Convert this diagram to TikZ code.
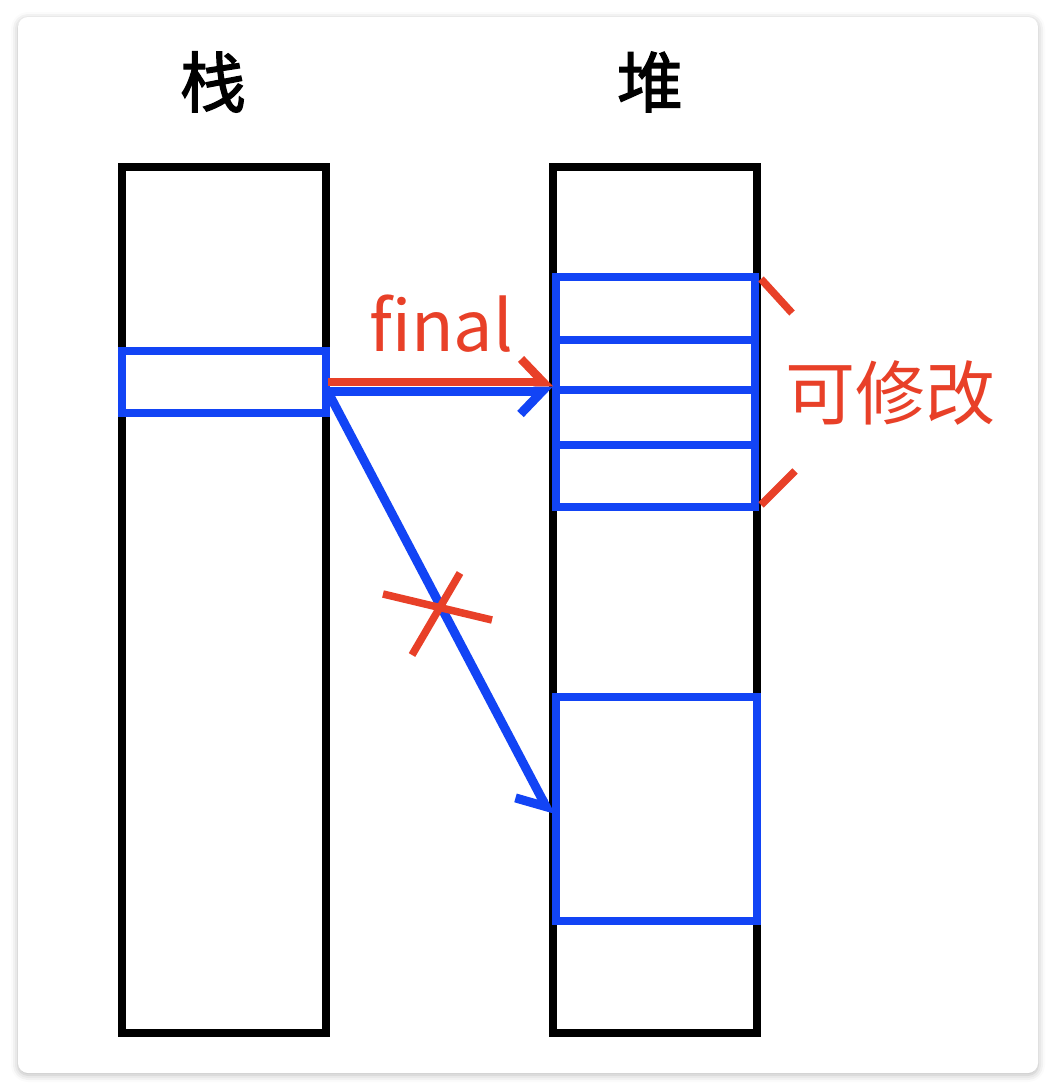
\documentclass[tikz,border=0pt]{standalone}
\usepackage{fontspec}
\usepackage{xcolor}
\usepackage{tikz}
\usetikzlibrary{arrows.meta,calc,shadows.blur}
\newfontfamily\cjk{Noto Sans CJK SC}
\newfontfamily\cjkhead[FakeBold=2]{Noto Sans CJK SC}
\definecolor{blueink}{RGB}{18,68,245}
\definecolor{redink}{RGB}{232,64,40}
\tikzset{
  card/.style={fill=white, rounded corners=10pt,
    blur shadow={shadow xshift=0pt, shadow yshift=-2pt, shadow blur radius=7pt, shadow opacity=28}},
  memcol/.style={draw=black, line width=8.5pt, inner sep=0pt, outer sep=0pt},
  cell/.style={draw=blueink, line width=7.5pt, inner sep=0pt, outer sep=0pt},
  ptr/.style={draw=blueink, line width=9pt,
    -{Straight Barb[harpoon, swap, length=22pt 0, width=46pt 0]}},
  fptr/.style={draw=redink, line width=8.5pt,
    -{Straight Barb[harpoon, length=22pt 0, width=46pt 0]}},
  redstroke/.style={draw=redink, line width=7.5pt},
  ttl/.style={font=\cjkhead\fontsize{66}{70}\selectfont, text=black, inner sep=0pt},
  note/.style={font=\cjk\fontsize{70}{72}\selectfont, text=redink, inner sep=0pt},
}

\begin{document}
\begin{tikzpicture}[x=1pt, y=-1pt]
\useasboundingbox (0,0) rectangle (1056,1092);
\path[card] (18,17) rectangle (1038,1073);

% stack and heap columns
\node[memcol, minimum width=204pt, minimum height=866pt] (stack) at (224,600) {};
\node[memcol, minimum width=204pt, minimum height=866pt] (heap) at (655,600) {};
\node[ttl] (stacklbl) at (213,82) {栈};
\node[ttl] (heaplbl) at (650,82) {堆};

% reference cell on the stack
\node[cell, minimum width=204pt, minimum height=62pt] (scell) at (224,382) {};

% object fields on the heap
\node[cell, minimum width=199pt, minimum height=63pt] (hcellA) at (655.5,308.5) {};
\node[cell, minimum width=199pt, minimum height=50pt] (hcellB) at (655.5,365) {};
\node[cell, minimum width=199pt, minimum height=55pt] (hcellC) at (655.5,417.5) {};
\node[cell, minimum width=199pt, minimum height=62pt] (hcellD) at (655.5,476) {};
\node[cell, minimum width=201pt, minimum height=224pt] (hobj) at (656.5,809) {};

% pointers
\coordinate (ptrs) at ([yshift=-9pt]scell.east);
\coordinate (ptre) at (ptrs -| heap.west);
\draw[ptr] (ptrs) -- (ptre);
\draw[fptr] ([xshift=2pt]scell.east) -- (scell.east -| heap.west);
\draw[ptr] ([xshift=3pt,yshift=-12pt]scell.east) -- ([xshift=-5pt,yshift=-7pt]hobj.west);
\node[note] (finallbl) at (441,324) {final};

% forbidden re-pointing
\draw[redstroke] (383,594) -- (492,620);
\draw[redstroke] (460,573) -- (412,655);

% modifiable fields
\draw[redstroke] (761,279) -- (792,313);
\draw[redstroke] (761,505) -- (795,471);
\node[note] (modlbl) at (890,393) {可修改};
\end{tikzpicture}
\end{document}
